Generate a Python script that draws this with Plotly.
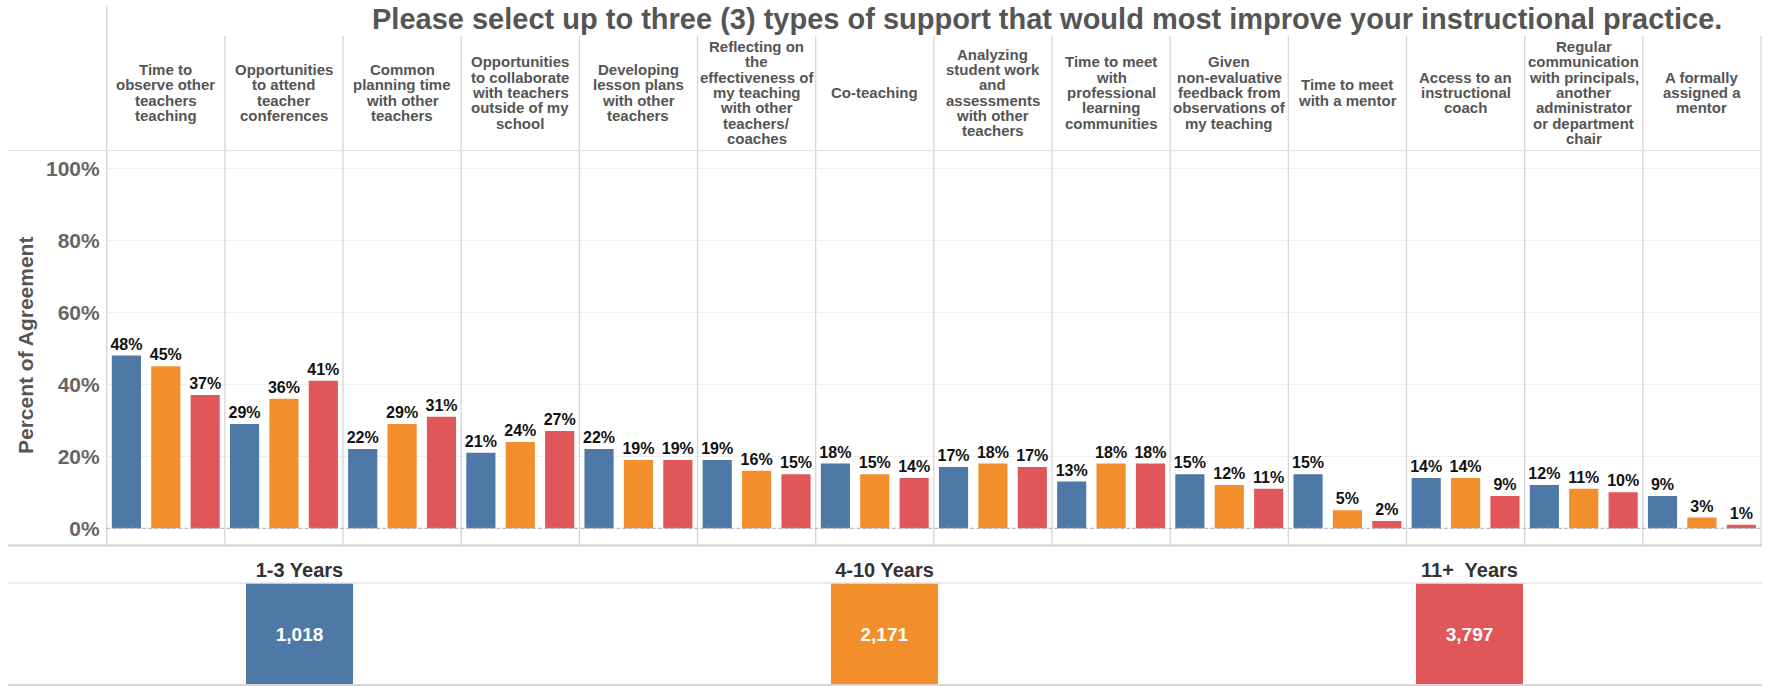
import plotly.graph_objects as go

# ---------------- data ----------------
categories = [
    "Time to observe other teachers teaching",
    "Opportunities to attend teacher conferences",
    "Common planning time with other teachers",
    "Opportunities to collaborate with teachers outside of my school",
    "Developing lesson plans with other teachers",
    "Reflecting on the effectiveness of my teaching with other teachers/ coaches",
    "Co-teaching",
    "Analyzing student work and assessments with other teachers",
    "Time to meet with professional learning communities",
    "Given non-evaluative feedback from observations of my teaching",
    "Time to meet with a mentor",
    "Access to an instructional coach",
    "Regular communication with principals, another administrator or department chair",
    "A formally assigned a mentor",
]
header_labels = [
    "Time to<br>observe other<br>teachers<br>teaching",
    "Opportunities<br>to attend<br>teacher<br>conferences",
    "Common<br>planning time<br>with other<br>teachers",
    "Opportunities<br>to collaborate<br>with teachers<br>outside of my<br>school",
    "Developing<br>lesson plans<br>with other<br>teachers",
    "Reflecting on<br>the<br>effectiveness of<br>my teaching<br>with other<br>teachers/<br>coaches",
    "Co-teaching",
    "Analyzing<br>student work<br>and<br>assessments<br>with other<br>teachers",
    "Time to meet<br>with<br>professional<br>learning<br>communities",
    "Given<br>non-evaluative<br>feedback from<br>observations of<br>my teaching",
    "Time to meet<br>with a mentor",
    "Access to an<br>instructional<br>coach",
    "Regular<br>communication<br>with principals,<br>another<br>administrator<br>or department<br>chair",
    "A formally<br>assigned a<br>mentor",
]
groups = ["1-3 Years", "4-10 Years", "11+  Years"]
group_counts = [1018, 2171, 3797]
pct_1_3 = [48, 29, 22, 21, 22, 19, 18, 17, 13, 15, 15, 14, 12, 9]
pct_4_10 = [45, 36, 29, 24, 19, 16, 15, 18, 18, 12, 5, 14, 11, 3]
pct_11p = [37, 41, 31, 27, 19, 15, 14, 17, 18, 11, 2, 9, 10, 1]
y_ticks = [0, 20, 40, 60, 80, 100]
title_text = "Please select up to three (3) types of support that would most improve your instructional practice."
y_title = "Percent of Agreement"

# ---------------- styling / layout ----------------
W, H = 1765, 686
colors = ["#4E79A7", "#F28E2B", "#E15759"]
FONT = "Arial, Liberation Sans, Helvetica, sans-serif"

def px(x):
    return x / W

def py(y):
    return 1 - y / H

plot_left, plot_right = 106.7, 1761.0
panel_w = (plot_right - plot_left) / len(categories)
y0_px, y100_px = 528.3, 168.3
ppu = (y0_px - y100_px) / 100.0
plot_top_px, plot_bot_px = 150.7, 545.5
yr = [-(plot_bot_px - y0_px) / ppu, 100 + (y100_px - plot_top_px) / ppu]

fig = go.Figure()
for vals, col in zip([pct_1_3, pct_4_10, pct_11p], colors):
    fig.add_trace(go.Bar(
        x=categories, y=vals, marker=dict(color=col, line=dict(width=0)),
        text=[f"{v}%" for v in vals], textposition="outside",
        textfont=dict(family=FONT, size=16, color="#111", weight="bold"),
        constraintext="none", cliponaxis=False, xaxis="x", yaxis="y",
        hoverinfo="skip",
    ))

fig.add_trace(go.Bar(
    x=groups, y=[1 for _ in group_counts], width=0.183,
    marker=dict(color=colors, line=dict(width=0)),
    text=[f"{c:,}" for c in group_counts], textposition="inside",
    insidetextanchor="middle",
    textfont=dict(family=FONT, size=19, color="white", weight="bold"),
    constraintext="none", xaxis="x2", yaxis="y2", hoverinfo="skip",
))

shapes = []
# panel dividers
for k in range(len(categories) + 1):
    x = plot_left + k * panel_w
    top = 5 if k == 0 else 36
    shapes.append(dict(type="line", xref="paper", yref="paper",
                       x0=px(x), x1=px(x), y0=py(top), y1=py(plot_bot_px),
                       line=dict(color="#d6d6d6", width=1.3)))
# horizontal rules
for yy, col, wdt in [(plot_top_px, "#e2e2e2", 1.3), (plot_bot_px, "#d0d0d0", 1.8),
                     (583.0, "#e6e6e6", 1.3), (685.0, "#d6d6d6", 1.8)]:
    shapes.append(dict(type="line", xref="paper", yref="paper",
                       x0=px(8), x1=px(plot_right + 1), y0=py(yy), y1=py(yy),
                       line=dict(color=col, width=wdt)))
# dotted zero line
shapes.append(dict(type="line", xref="paper", yref="y",
                   x0=px(plot_left), x1=px(plot_right), y0=0, y1=0,
                   line=dict(color="#a8b6c6", width=1.2, dash="dot")))

annotations = []
# title
annotations.append(dict(text=title_text, xref="paper", yref="paper",
                        x=px(1046.5), y=py(19), showarrow=False,
                        xanchor="center", yanchor="middle",
                        font=dict(family=FONT, size=29, color="#555", weight="bold")))
# header labels, line by line
line_h = 15.3
head_c = 92.5
for i, lab in enumerate(header_labels):
    lines = lab.split("<br>")
    n = len(lines)
    cx = plot_left + (i + 0.5) * panel_w
    for j, ln in enumerate(lines):
        yy = head_c + (j - (n - 1) / 2) * line_h
        annotations.append(dict(text=ln, xref="paper", yref="paper",
                                x=px(cx), y=py(yy), showarrow=False,
                                xanchor="center", yanchor="middle",
                                font=dict(family=FONT, size=15, color="#555", weight="bold")))
# y-axis title
annotations.append(dict(text=y_title, xref="paper", yref="paper",
                        x=px(25), y=py(346), showarrow=False, textangle=-90,
                        xanchor="center", yanchor="middle",
                        font=dict(family=FONT, size=21, color="#555", weight="bold")))

fig.update_layout(
    width=W, height=H, margin=dict(l=0, r=0, t=0, b=0),
    paper_bgcolor="white", plot_bgcolor="white",
    barmode="group", bargap=0, bargroupgap=0.26,
    showlegend=False, shapes=shapes, annotations=annotations,
    xaxis=dict(domain=[px(plot_left), px(plot_right)], range=[-0.5, len(categories) - 0.5],
               showticklabels=False, showgrid=False, zeroline=False, showline=False,
               anchor="y", fixedrange=True),
    yaxis=dict(domain=[py(plot_bot_px), py(plot_top_px)], range=yr,
               tickvals=y_ticks, ticktext=[f"{t}%" for t in y_ticks],
               tickfont=dict(family=FONT, size=21, color="#666", weight="bold"),
               ticks="", ticklabelstandoff=6,
               showgrid=True, gridcolor="#efefef", gridwidth=1.2, zeroline=False,
               showline=False, anchor="x", fixedrange=True),
    xaxis2=dict(domain=[px(7), px(plot_right + 1)], range=[-0.5, 2.5], side="top",
                tickfont=dict(family=FONT, size=20, color="#333", weight="bold"),
                ticks="", ticklabelstandoff=1, showgrid=False, zeroline=False, showline=False,
                anchor="y2", fixedrange=True),
    yaxis2=dict(domain=[py(685), py(583)], range=[0, 1], visible=False,
                anchor="x2", fixedrange=True),
)

fig.write_html("out.html")
